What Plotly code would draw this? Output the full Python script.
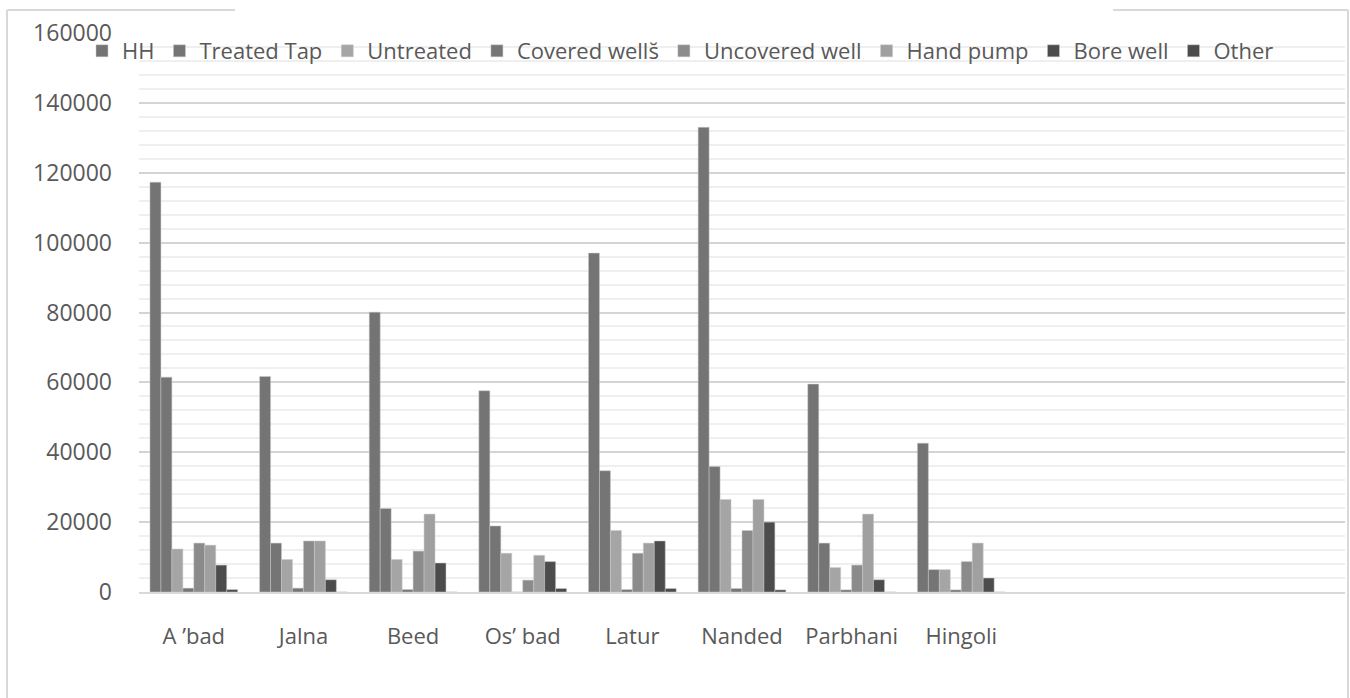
import plotly.graph_objects as go

districts = ["A \u2019bad", "Jalna", "Beed", "Os\u2019 bad", "Latur", "Nanded", "Parbhani", "Hingoli"]
series_names = ["HH", "Treated Tap", "Untreated", "Covered wells\u0306", "Uncovered well", "Hand pump", "Bore well", "Other"]

hh = [117300, 61700, 80100, 57600, 97000, 133000, 59500, 42600]
treated_tap = [61500, 14000, 23900, 18900, 34700, 35900, 14000, 6400]
untreated = [12300, 9300, 9300, 11100, 17600, 26500, 7000, 6400]
covered_wells = [1100, 1100, 700, 0, 700, 1000, 600, 600]
uncovered_well = [14000, 14600, 11700, 3400, 11100, 17600, 7700, 8700]
hand_pump = [13400, 14600, 22300, 10500, 14000, 26500, 22300, 14000]
bore_well = [7700, 3500, 8300, 8700, 14600, 20000, 3500, 4000]
other = [700, 0, 0, 1000, 1000, 600, 0, 0]

values = [hh, treated_tap, untreated, covered_wells, uncovered_well, hand_pump, bore_well, other]
colors = ["#747474", "#757575", "#a5a5a5", "#767676", "#8b8b8b", "#a0a0a0", "#4c4c4c", "#4c4c4c"]

W, H = 1350, 698
PL, PR, PT, PB = 139, 1345, 33, 592  # plot area in page pixels
pw, ph = PR - PL, PB - PT
L, R, T, B = PL, W - PR, PT, H - PB


def px(x):
    return (x - PL) / pw


def py(y):
    return (PB - y) / ph


fig = go.Figure()
for name, vals, col in zip(series_names, values, colors):
    fig.add_trace(go.Bar(
        x=districts, y=vals, name=name,
        marker=dict(color=col, line=dict(color="#c8c8c8", width=0.5)),
    ))

font_family = "'Open Sans', Lato, sans-serif"
text_color = "#595959"

frame = dict(color="#d9d9d9", width=2)
shapes = [
    dict(type="rect", xref="paper", yref="paper", x0=px(235), x1=px(1113), y0=py(41), y1=py(0),
         fillcolor="white", line=dict(width=0), layer="above"),
    dict(type="line", xref="paper", yref="paper", x0=px(7), x1=px(7), y0=py(10), y1=py(700),
         line=frame, layer="above"),
    dict(type="line", xref="paper", yref="paper", x0=px(1348), x1=px(1348), y0=py(10), y1=py(700),
         line=frame, layer="above"),
    dict(type="line", xref="paper", yref="paper", x0=px(7), x1=px(235), y0=py(10), y1=py(10),
         line=frame, layer="above"),
    dict(type="line", xref="paper", yref="paper", x0=px(1113), x1=px(1348), y0=py(10), y1=py(10),
         line=frame, layer="above"),
]

fig.update_layout(
    width=W, height=H,
    margin=dict(l=L, r=R, t=T, b=B, autoexpand=False),
    paper_bgcolor="white", plot_bgcolor="white",
    barmode="group", bargap=0.2, bargroupgap=0,
    font=dict(family=font_family, size=22, color=text_color),
    showlegend=True,
    legend=dict(orientation="h", x=px(82), xanchor="left", y=py(30), yanchor="top",
                bgcolor="rgba(0,0,0,0)", font=dict(size=22, color=text_color),
                itemwidth=30, traceorder="normal"),
    shapes=shapes,
    xaxis=dict(type="category", range=[-0.5, 10.5], showgrid=False, showline=True,
               linecolor="#d9d9d9", linewidth=2, ticks="", ticklabelstandoff=24,
               tickfont=dict(size=22, color=text_color), fixedrange=True),
    yaxis=dict(range=[0, 160000], dtick=20000, tick0=0, showgrid=True, gridcolor="#d4d4d4",
               gridwidth=1.5, zeroline=False, showline=False, ticks="",
               ticklabelstandoff=26, tickformat="d",
               tickfont=dict(size=23, color=text_color),
               minor=dict(dtick=4000, tick0=0, showgrid=True, gridcolor="#efefef", gridwidth=1.5),
               fixedrange=True),
)

fig.write_html(
    "out.html",
    config={"displayModeBar": False},
    post_script="document.body.style.margin='0';document.body.style.overflow='hidden';",
)
